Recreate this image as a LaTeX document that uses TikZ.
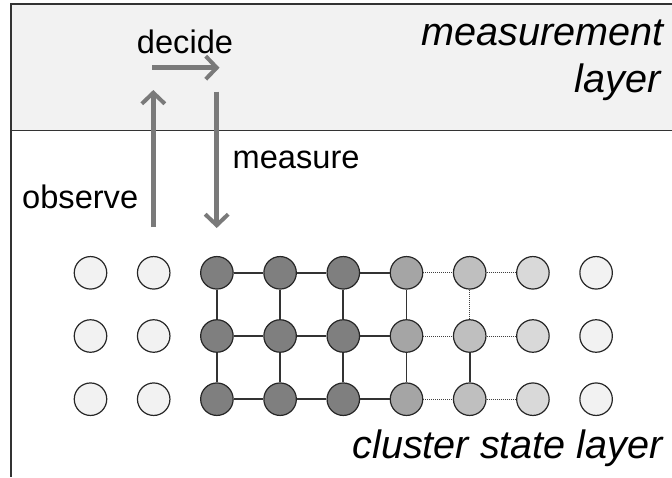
\documentclass[tikz,border=0pt]{standalone}
\usepackage{fontspec}
\setmainfont{Liberation Sans}
\usetikzlibrary{arrows.meta}
\definecolor{bandfill}{HTML}{F2F2F2}
\definecolor{qlight}{HTML}{F2F2F2}
\definecolor{qdark}{HTML}{7F7F7F}
\definecolor{qmid}{HTML}{A5A5A5}
\definecolor{qpale}{HTML}{BFBFBF}
\definecolor{qfaint}{HTML}{D9D9D9}
\definecolor{flowgray}{HTML}{7A7A7A}
\begin{document}
\begin{tikzpicture}[x=1pt,y=-1pt,
  qubit/.style={circle,minimum size=32.5pt,inner sep=0pt,draw=black!85,line width=1.2pt},
  bond/.style={draw=black!80,line width=1.7pt},
  weakbond/.style={draw=black!75,line width=1pt,densely dotted},
  flow/.style={draw=flowgray,line width=4.6pt,-{Straight Barb[length=11pt,width=23pt,line width=4pt]}},
  lbl/.style={inner sep=0pt,font=\fontsize{32.6}{38}\selectfont},
  layerlbl/.style={inner sep=0pt,font=\fontsize{39.6}{46}\selectfont\itshape}]
\useasboundingbox (0,0) rectangle (672,477);
% measurement layer band
\fill[bandfill] (11,4) rectangle (672,130.5);
\draw[black!80,line width=1.6pt] (672,4) -- (11,4) -- (11,477);
\draw[black!80,line width=1.6pt] (11,130.5) -- (672,130.5);
% qubits
\foreach \i/\c in {0/qlight,1/qlight,2/qdark,3/qdark,4/qdark,5/qmid,6/qpale,7/qfaint,8/qlight}{
  \foreach \j in {0,1,2}{
    \node[qubit,fill=\c] (q-\i-\j) at ({90.5+63.2*\i},{272.8+63.2*\j}) {};
  }
}
% horizontal bonds
\foreach \j in {0,1,2}{
  \draw[bond] (q-2-\j) -- (q-3-\j);
  \draw[bond] (q-3-\j) -- (q-4-\j);
  \draw[bond] (q-4-\j) -- (q-5-\j);
  \draw[weakbond] (q-5-\j) -- (q-6-\j);
  \draw[weakbond] (q-6-\j) -- (q-7-\j);
}
% vertical bonds
\foreach \i in {2,3,4,5}{
  \draw[bond] (q-\i-0) -- (q-\i-1);
  \draw[bond] (q-\i-1) -- (q-\i-2);
}
\draw[weakbond] (q-6-0) -- (q-6-1);
\draw[bond] (q-6-1) -- (q-6-2);
% flow arrows
\coordinate (obsS) at (153.3,227);
\coordinate (obsE) at (153.3,90);
\coordinate (decS) at (152,67.7);
\coordinate (decE) at (219.5,67.7);
\coordinate (meaS) at (216.7,91.5);
\coordinate (meaE) at (216.7,228);
\draw[flow] (obsS) -- (obsE);
\draw[flow] (decS) -- (decE);
\draw[flow] (meaS) -- (meaE);
% labels
\node[lbl,anchor=base] (tdecide) at (185,53) {decide};
\node[lbl,anchor=base west] (tobserve) at (22,208) {observe};
\node[lbl,anchor=base west] (tmeasure) at (232.5,168) {measure};
\node[layerlbl,anchor=base east] (tml1) at (664,45) {measurement};
\node[layerlbl,anchor=base east] (tml2) at (661,92.5) {layer};
\node[layerlbl,anchor=base east] (tcl) at (663,458) {cluster state layer};
\end{tikzpicture}
\end{document}
